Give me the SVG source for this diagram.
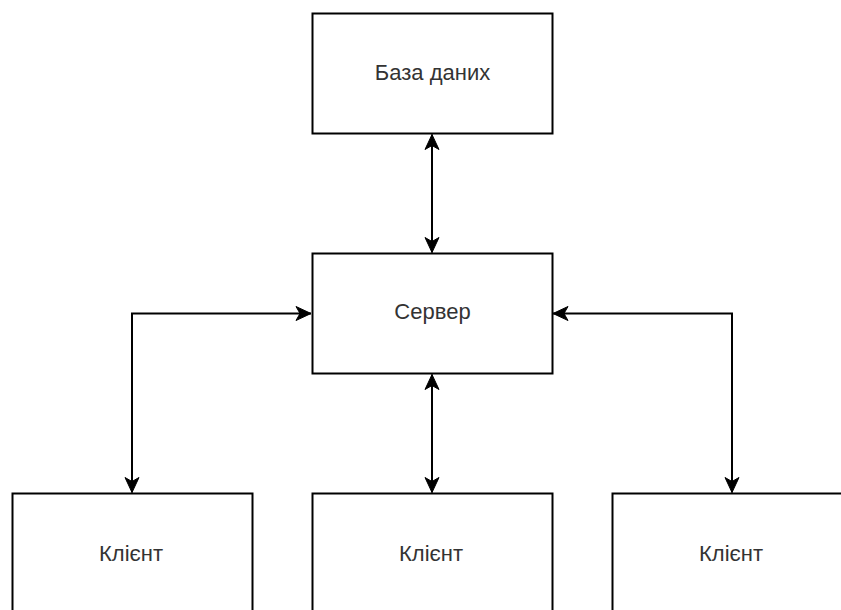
<svg xmlns="http://www.w3.org/2000/svg" width="841" height="610" viewBox="0 0 841 610">
<style>
.box{fill:#fff;stroke:#000;stroke-width:2}
.lbl{font-family:"Liberation Sans",Arial,sans-serif;font-size:22px;fill:#333;text-anchor:middle}
.edge{fill:none;stroke:#000;stroke-width:2;marker-start:url(#arr);marker-end:url(#arr)}
</style>
<defs>
<marker id="arr" markerUnits="userSpaceOnUse" markerWidth="20" markerHeight="20" viewBox="-16 -10 20 20" refX="0" refY="0" orient="auto-start-reverse">
<path d="M0,0 L-15,-7 L-11,0 L-15,7 Z" fill="#000" stroke="#000" stroke-width="1"/>
</marker>
</defs>
<rect width="841" height="610" fill="#fff"/>
<g id="connectors">
<path class="edge" d="M432,134.5 L432,252.5"/>
<path class="edge" d="M432,374.5 L432,492.5"/>
<path class="edge" d="M311,313.5 L132,313.5 L132,492.5"/>
<path class="edge" d="M553,313.5 L732,313.5 L732,492.5"/>
</g>
<g id="db">
<rect class="box" x="312.5" y="13.5" width="240" height="120"/>
<text class="lbl" x="432.5" y="80">База даних</text>
</g>
<g id="server">
<rect class="box" x="312.5" y="253.5" width="240" height="120"/>
<text class="lbl" x="432.5" y="318.5">Сервер</text>
</g>
<g id="client1">
<rect class="box" x="12.5" y="493.5" width="240" height="120"/>
<text class="lbl" x="131" y="561">Клієнт</text>
</g>
<g id="client2">
<rect class="box" x="312.5" y="493.5" width="240" height="120"/>
<text class="lbl" x="431" y="561">Клієнт</text>
</g>
<g id="client3">
<rect class="box" x="612.5" y="493.5" width="240" height="120"/>
<text class="lbl" x="731" y="561">Клієнт</text>
</g>
</svg>
